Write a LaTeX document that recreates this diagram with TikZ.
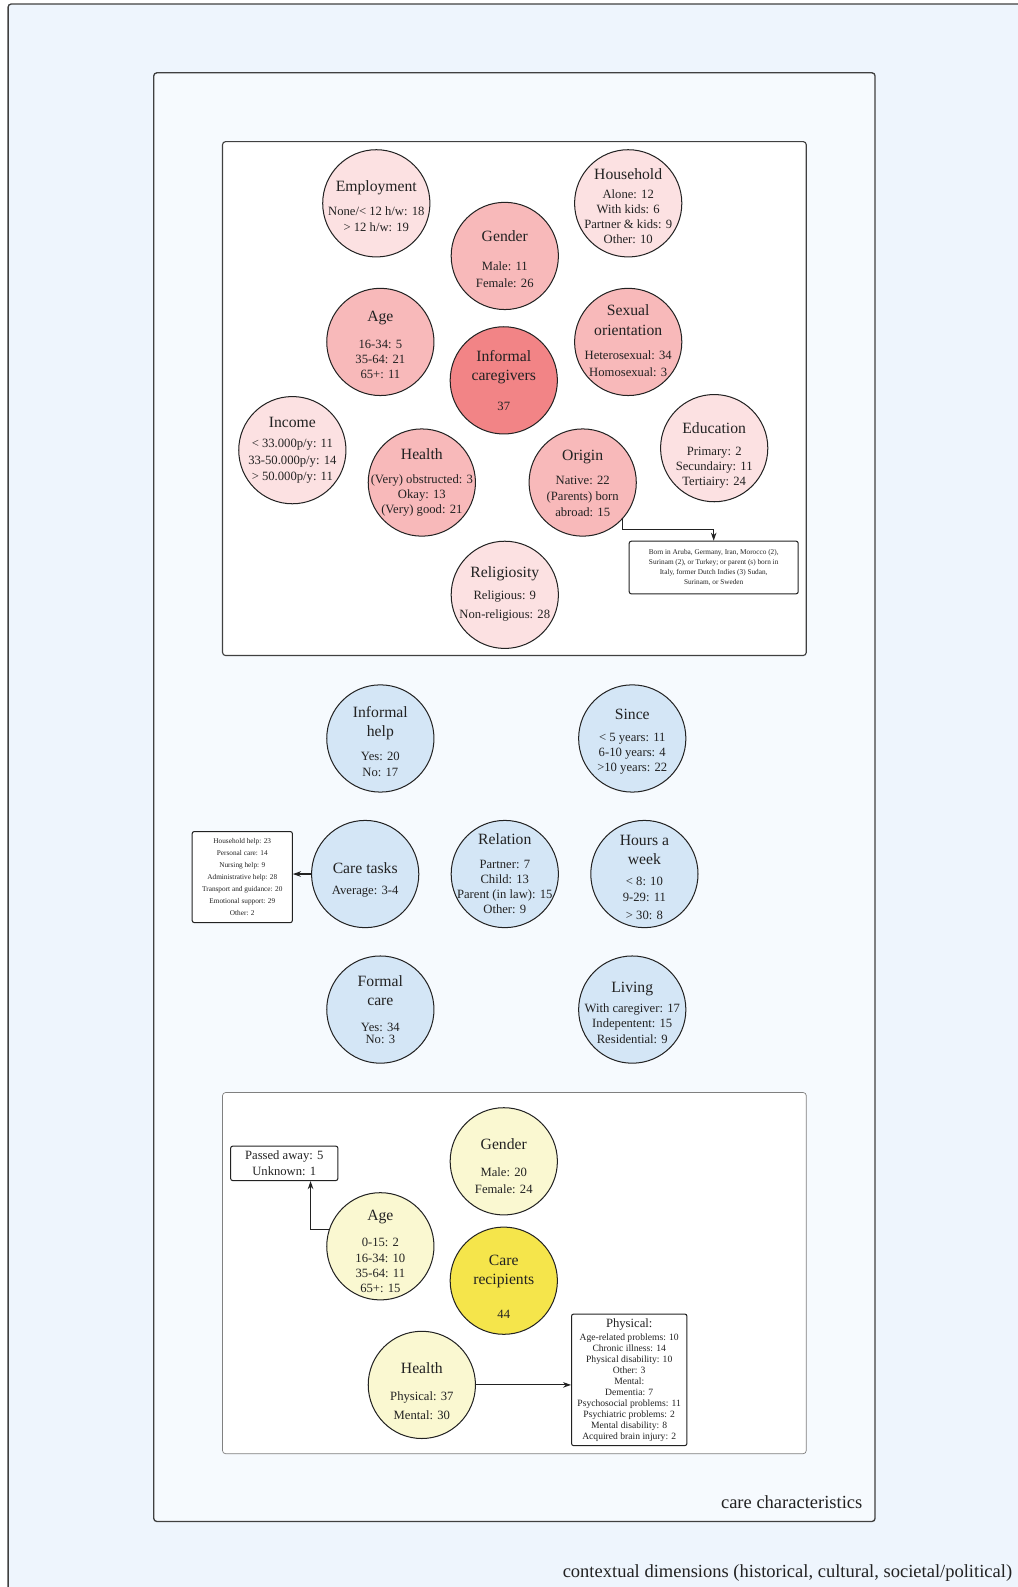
\documentclass[tikz,border=0pt]{standalone}
\usepackage{fontspec}
\setmainfont{Liberation Serif}
\usetikzlibrary{arrows.meta}
\definecolor{pinkA}{HTML}{FCE1E2}
\definecolor{pinkB}{HTML}{F8B9BA}
\definecolor{pinkC}{HTML}{F28486}
\definecolor{blueA}{HTML}{D4E6F6}
\definecolor{yelA}{HTML}{FAF8D1}
\definecolor{yelB}{HTML}{F5E54B}
\definecolor{bgout}{HTML}{EEF5FD}
\definecolor{bgin}{HTML}{F6FAFE}
\definecolor{ink}{HTML}{222222}
\newcommand{\hd}[1]{{\fontsize{15.5}{18}\selectfont #1}}

\begin{document}
\begin{tikzpicture}[x=1pt, y=-1pt, >={Stealth[length=8pt,width=5.5pt]},
    bub/.style = {draw=ink, circle, minimum size=106pt, inner sep=0pt, line width=1pt},
    txt/.style = {align=center, inner sep=0pt, text=ink, yshift=-3pt,
      font=\fontsize{12.5}{15}\selectfont},
    note/.style = {draw=ink, rounded corners=2pt, fill=white, align=center,
      line width=1pt, inner sep=0pt, text=ink},
    frame/.style = {draw=black!75, rounded corners=3pt, line width=1.3pt},
    edge/.style = {->, draw=ink, line width=1.1pt}]
    \useasboundingbox (0,0) rectangle (1006.3,1568.8);

    % Frames

    \fill[bgout] (8,4) rectangle (1006.3,1568.8);
    \draw[frame] (8,1568.8) -- (8,4) -- (1006.3,4);
    \draw[frame, fill=bgin] (152,72) rectangle (865,1504);
    \draw[frame, fill=white, line width=1.1pt] (220,140) rectangle (797,648);
    \draw[draw=black!50, fill=white, rounded corners=3pt, line width=0.7pt] (220,1080) rectangle (797,1437);

    \node[anchor=base east, text=ink, font=\fontsize{18.3}{21}\selectfont] (cc) at (856,1491) {care characteristics};
    \node[anchor=base east, text=ink, font=\fontsize{18.3}{21}\selectfont] (cd) at (1004,1559) {contextual dimensions (historical, cultural, societal/political)};

    % Nodes: informal caregivers

    \node[bub, fill=pinkA] (emp) at (372,201) {};
    \node[txt] (emp-t) at (emp) {\hd{Employment}\\[9pt] None/< 12 h/w: 18\\[1pt] > 12 h/w: 19};
    \node[bub, fill=pinkA] (hh) at (621,201) {};
    \node[txt] (hh-t) at (hh) {\hd{Household}\\[3pt] Alone: 12\\ With kids: 6\\ Partner \& kids: 9\\ Other: 10};
    \node[bub, fill=pinkB] (gen) at (499,253) {};
    \node[txt] (gen-t) at (gen) {\hd{Gender}\\[14pt] Male: 11\\[1pt] Female: 26};
    \node[bub, fill=pinkB] (age) at (376,338) {};
    \node[txt] (age-t) at (age) {\hd{Age}\\[12pt] 16-34: 5\\ 35-64: 21\\ 65+: 11};
    \node[bub, fill=pinkB] (sex) at (621,338) {};
    \node[txt, yshift=4pt] (sex-t) at (sex) {\hd{Sexual}\\[4pt] \hd{orientation}\\[9pt] Heterosexual: 34\\[2pt] Homosexual: 3};
    \node[bub, fill=pinkC] (ic) at (498,376) {};
    \node[txt, yshift=3pt] (ic-t) at (ic) {\hd{Informal}\\[4pt] \hd{caregivers}\\[14pt] 37};
    \node[bub, fill=pinkA] (inc) at (289,445) {};
    \node[txt, yshift=3pt] (inc-t) at (inc) {\hd{Income}\\[5pt] < 33.000p/y: 11\\[1pt] 33-50.000p/y: 14\\[1pt] > 50.000p/y: 11};
    \node[bub, fill=pinkA] (edu) at (706,443) {};
    \node[txt, yshift=-4pt] (edu-t) at (edu) {\hd{Education}\\[7pt] Primary: 2\\ Secundairy: 11\\ Tertiairy: 24};
    \node[bub, fill=pinkB] (hl) at (417,477) {};
    \node[txt, yshift=3pt] (hl-t) at (hl) {\hd{Health}\\[8pt] (Very) obstructed: 3\\ Okay: 13\\ (Very) good: 21};
    \node[bub, fill=pinkB] (orig) at (576,477) {};
    \node[txt, yshift=2pt] (orig-t) at (orig) {\hd{Origin}\\[9pt] Native: 22\\[1pt] (Parents) born\\[1pt] abroad: 15};
    \node[bub, fill=pinkA] (rel) at (499,588) {};
    \node[txt, yshift=4pt] (rel-t) at (rel) {\hd{Religiosity}\\[7pt] Religious: 9\\[3pt] Non-religious: 28};

    \node[note, minimum width=167pt, minimum height=52pt, font=\fontsize{7.2}{9.6}\selectfont] (born) at (705.5,561)
      {Born in Aruba, Germany, Iran, Morocco (2),\\ Surinam (2), or Turkey; or parent (s) born in\\ Italy, former Dutch Indies (3) Sudan,\\ Surinam, or Sweden};

    % Nodes: care characteristics

    \node[bub, fill=blueA] (ih) at (376,730) {};
    \node[txt] (ih-t) at (ih) {\hd{Informal}\\[4pt] \hd{help}\\[8pt] Yes: 20\\[1pt] No: 17};
    \node[bub, fill=blueA] (since) at (625,730) {};
    \node[txt] (since-t) at (since) {\hd{Since}\\[7pt] < 5 years: 11\\ 6-10 years: 4\\ >10 years: 22};
    \node[bub, fill=blueA] (ct) at (361,864) {};
    \node[txt, yshift=-3pt] (ct-t) at (ct) {\hd{Care tasks}\\[6pt] Average: 3-4};
    \node[bub, fill=blueA] (relat) at (499,864) {};
    \node[txt, yshift=3pt] (relat-t) at (relat) {\hd{Relation}\\[8pt] Partner: 7\\ Child: 13\\ Parent (in law): 15\\ Other: 9};
    \node[bub, fill=blueA] (hw) at (637,864) {};
    \node[txt] (hw-t) at (hw) {\hd{Hours a}\\[4pt] \hd{week}\\[6pt] < 8: 10\\[1pt] 9-29: 11\\[2pt] > 30: 8};
    \node[bub, fill=blueA] (fc) at (376,998) {};
    \node[txt, yshift=3pt] (fc-t) at (fc) {\hd{Formal}\\[4pt] \hd{care}\\[11pt] Yes: 34\\[-3pt] No: 3};
    \node[bub, fill=blueA] (liv) at (625,998) {};
    \node[txt] (liv-t) at (liv) {\hd{Living}\\[5pt] With caregiver: 17\\ Indepentent: 15\\ Residential: 9};

    \node[note, minimum width=99pt, minimum height=90pt, font=\fontsize{7.2}{11.8}\selectfont] (tasks) at (239.5,867)
      {Household help: 23\\ Personal care: 14\\ Nursing help: 9\\ Administrative help: 28\\ Transport and guidance: 20\\ Emotional support: 29\\ Other: 2};

    % Nodes: care recipients

    \node[bub, fill=yelA] (gen2) at (498,1148) {};
    \node[txt, yshift=-2pt] (gen2-t) at (gen2) {\hd{Gender}\\[11pt] Male: 20\\[2pt] Female: 24};
    \node[bub, fill=yelA] (age2) at (376,1232) {};
    \node[txt, yshift=-2pt] (age2-t) at (age2) {\hd{Age}\\[11pt] 0-15: 2\\ 16-34: 10\\ 35-64: 11\\ 65+: 15};
    \node[bub, fill=yelB] (cr) at (498,1266) {};
    \node[txt, yshift=-3pt] (cr-t) at (cr) {\hd{Care}\\[4pt] \hd{recipients}\\[18pt] 44};
    \node[bub, fill=yelA] (hl2) at (417,1369) {};
    \node[txt, yshift=-3pt] (hl2-t) at (hl2) {\hd{Health}\\[12pt] Physical: 37\\[3pt] Mental: 30};

    \node[note, minimum width=106pt, minimum height=34pt, font=\fontsize{12.5}{16}\selectfont] (passed) at (281,1150)
      {Passed away: 5\\ Unknown: 1};
    \node[note, minimum width=114pt, minimum height=130pt, font=\fontsize{9.5}{10.9}\selectfont] (phys) at (622,1364)
      {{\fontsize{12.5}{14}\selectfont Physical:}\\[2pt] Age-related problems: 10\\ Chronic illness: 14\\ Physical disability: 10\\ Other: 3\\ Mental:\\ Dementia: 7\\ Psychosocial problems: 11\\ Psychiatric problems: 2\\ Mental disability: 8\\ Acquired brain injury: 2};

    % Edges

    \draw[edge] (orig.-42) -- ++(0,11) -| (born.north);
    \draw[edge] (ct.west) -- (ct.west -| tasks.east);
    \draw[edge] (age2.162) -| ([xshift=26pt]passed.south);
    \draw[edge] (hl2.east) -- (hl2.east -| phys.west);

\end{tikzpicture}
\end{document}
